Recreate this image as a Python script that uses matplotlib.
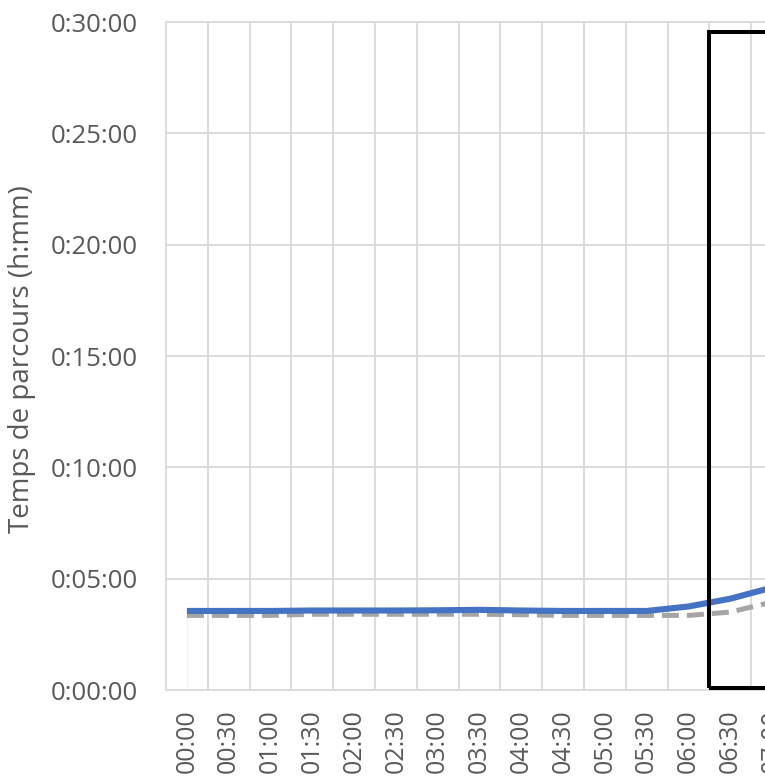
import numpy as np
import matplotlib.pyplot as plt
from matplotlib.ticker import FuncFormatter, FixedLocator
from matplotlib.patches import Rectangle

# Données (temps en minutes)
heures = ["00:00", "00:30", "01:00", "01:30", "02:00", "02:30", "03:00", "03:30",
          "04:00", "04:30", "05:00", "05:30", "06:00", "06:30", "07:00"]
temps_reel = [3.55, 3.55, 3.55, 3.57, 3.57, 3.57, 3.58, 3.6,
              3.57, 3.55, 3.55, 3.55, 3.75, 4.1, 4.6]
temps_ref = [3.35, 3.35, 3.35, 3.4, 3.4, 3.4, 3.4, 3.4,
             3.38, 3.35, 3.35, 3.35, 3.35, 3.5, 3.95]

grid_col = "#D9D9D9"
txt_col = "#595959"

fig = plt.figure(figsize=(7.65, 7.78), dpi=100)
# l'axe déborde à droite : on ne voit qu'une partie du graphique
ax = fig.add_axes([166 / 765, 88 / 778, 627 / 765, 668 / 778])

x = np.arange(len(heures)) + 0.5
ax.plot(x, temps_ref, color="#A5A5A5", lw=3.6, dashes=(3.4, 1.6), solid_capstyle="butt", zorder=3)
ax.plot(x, temps_reel, color="#4472C4", lw=4.4, solid_capstyle="butt", zorder=4)
ax.plot([x[0], x[0]], [0, temps_ref[0]], color="#F2F2F2", lw=1, zorder=2)

# cadre noir de la période de pointe
ax.add_patch(Rectangle((13, 0.1), 10, 29.45, fill=False, edgecolor="black", lw=2.9, zorder=5))

ax.set_xlim(0, len(heures))
ax.set_ylim(0, 30)

ax.xaxis.set_major_locator(FixedLocator(x))
ax.set_xticklabels(heures, rotation=90, fontsize=18, color=txt_col, family="Open Sans")
ax.xaxis.set_minor_locator(FixedLocator(np.arange(1, len(heures) + 1)))
ax.tick_params(axis="x", which="both", length=0, pad=14)
ax.grid(axis="x", which="minor", color=grid_col, lw=1.3)

ax.set_yticks(np.arange(0, 31, 5))
ax.yaxis.set_major_formatter(FuncFormatter(lambda v, p: f"0:{int(v):02d}:00"))
ax.tick_params(axis="y", length=0, pad=20, labelsize=18.5, labelcolor=txt_col)
for lab in ax.get_yticklabels():
    lab.set_family("Open Sans")
for v in range(5, 31, 5):
    ax.axhline(v, color=grid_col, lw=1.3, clip_on=False, zorder=1)

for s in ["top", "right"]:
    ax.spines[s].set_visible(False)
for s in ["left", "bottom"]:
    ax.spines[s].set_color(grid_col)
    ax.spines[s].set_linewidth(1.3)

fig.text(22 / 765, 1 - 359 / 778, "Temps de parcours (h:mm)", rotation=90, ha="center", va="center",
         fontsize=20, color=txt_col, family="Open Sans")

plt.savefig("out.png", dpi=100)
